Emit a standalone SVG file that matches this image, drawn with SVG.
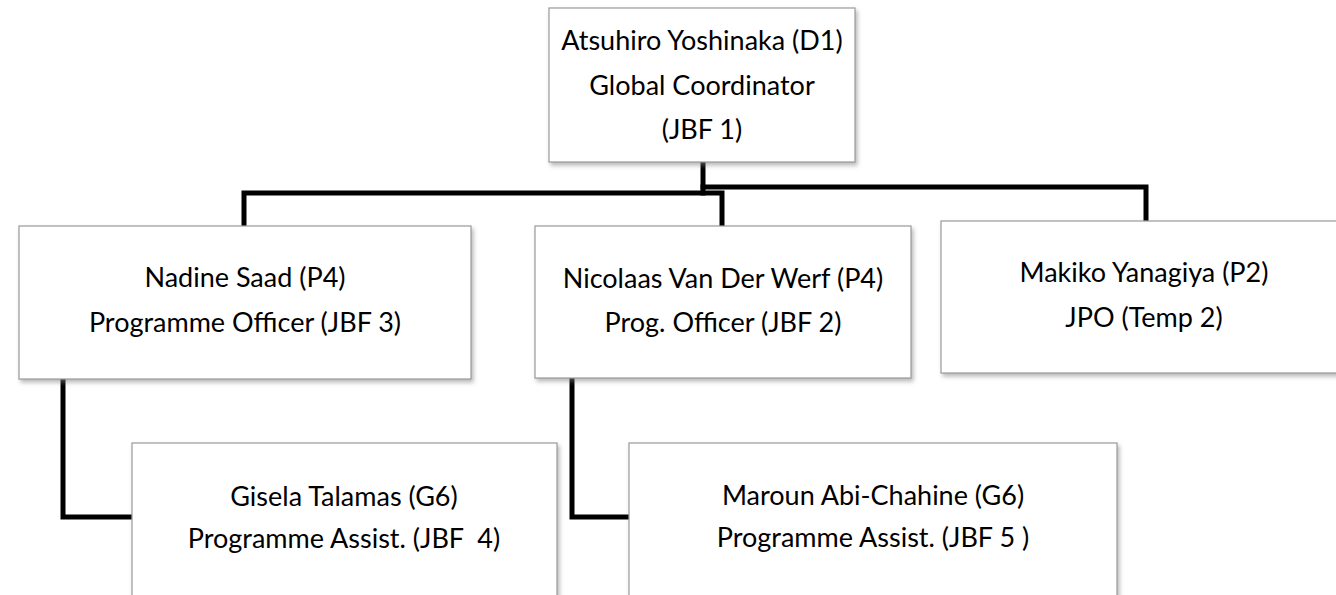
<svg xmlns="http://www.w3.org/2000/svg" width="1336" height="595" viewBox="0 0 1336 595">
  <style>
    .box { fill: #ffffff; stroke: #9a9a9a; stroke-width: 1.2; filter: url(#shadow); }
    .lbl { font-family: Lato, "Open Sans", "Liberation Sans", sans-serif; font-size: 27px; fill: #000000; text-anchor: middle; }
    .conn { fill: none; stroke: #000000; stroke-width: 5; stroke-linejoin: miter; stroke-linecap: square; }
  </style>
  <defs>
    <filter id="shadow" x="-5%" y="-5%" width="115%" height="120%">
      <feDropShadow dx="2" dy="3" stdDeviation="2" flood-color="#808080" flood-opacity="0.55"/>
    </filter>
  </defs>
  <rect width="1336" height="595" fill="#ffffff"/>

  <g id="connectors">
    <path class="conn" d="M703,162 V193"/>
    <path class="conn" d="M244,226 V193 H722 V226"/>
    <path class="conn" d="M703,187 H1146 V221"/>
    <path class="conn" d="M63,379 V517 H132"/>
    <path class="conn" d="M572,378 V517 H629"/>
  </g>

  <g id="node-atsuhiro">
    <rect class="box" x="549" y="8" width="306" height="154"/>
    <text class="lbl" x="702" y="50">Atsuhiro Yoshinaka (D1)</text>
    <text class="lbl" x="702" y="95">Global Coordinator</text>
    <text class="lbl" x="702" y="139">(JBF 1)</text>
  </g>

  <g id="node-nadine">
    <rect class="box" x="19" y="226" width="452" height="153"/>
    <text class="lbl" x="245" y="287">Nadine Saad (P4)</text>
    <text class="lbl" x="245" y="332">Programme Officer (JBF 3)</text>
  </g>

  <g id="node-nicolaas">
    <rect class="box" x="535" y="226" width="376" height="152"/>
    <text class="lbl" x="723" y="288">Nicolaas Van Der Werf (P4)</text>
    <text class="lbl" x="723" y="332">Prog. Officer (JBF 2)</text>
  </g>

  <g id="node-makiko">
    <rect class="box" x="941" y="221" width="406" height="152"/>
    <text class="lbl" x="1144" y="282">Makiko Yanagiya (P2)</text>
    <text class="lbl" x="1144" y="327">JPO (Temp 2)</text>
  </g>

  <g id="node-gisela">
    <rect class="box" x="132" y="443" width="425" height="170"/>
    <text class="lbl" x="344" y="506">Gisela Talamas (G6)</text>
    <text class="lbl" x="344" y="548" xml:space="preserve">Programme Assist. (JBF  4)</text>
  </g>

  <g id="node-maroun">
    <rect class="box" x="629" y="443" width="488" height="170"/>
    <text class="lbl" x="873" y="505">Maroun Abi-Chahine (G6)</text>
    <text class="lbl" x="873" y="547">Programme Assist. (JBF 5 )</text>
  </g>
</svg>
